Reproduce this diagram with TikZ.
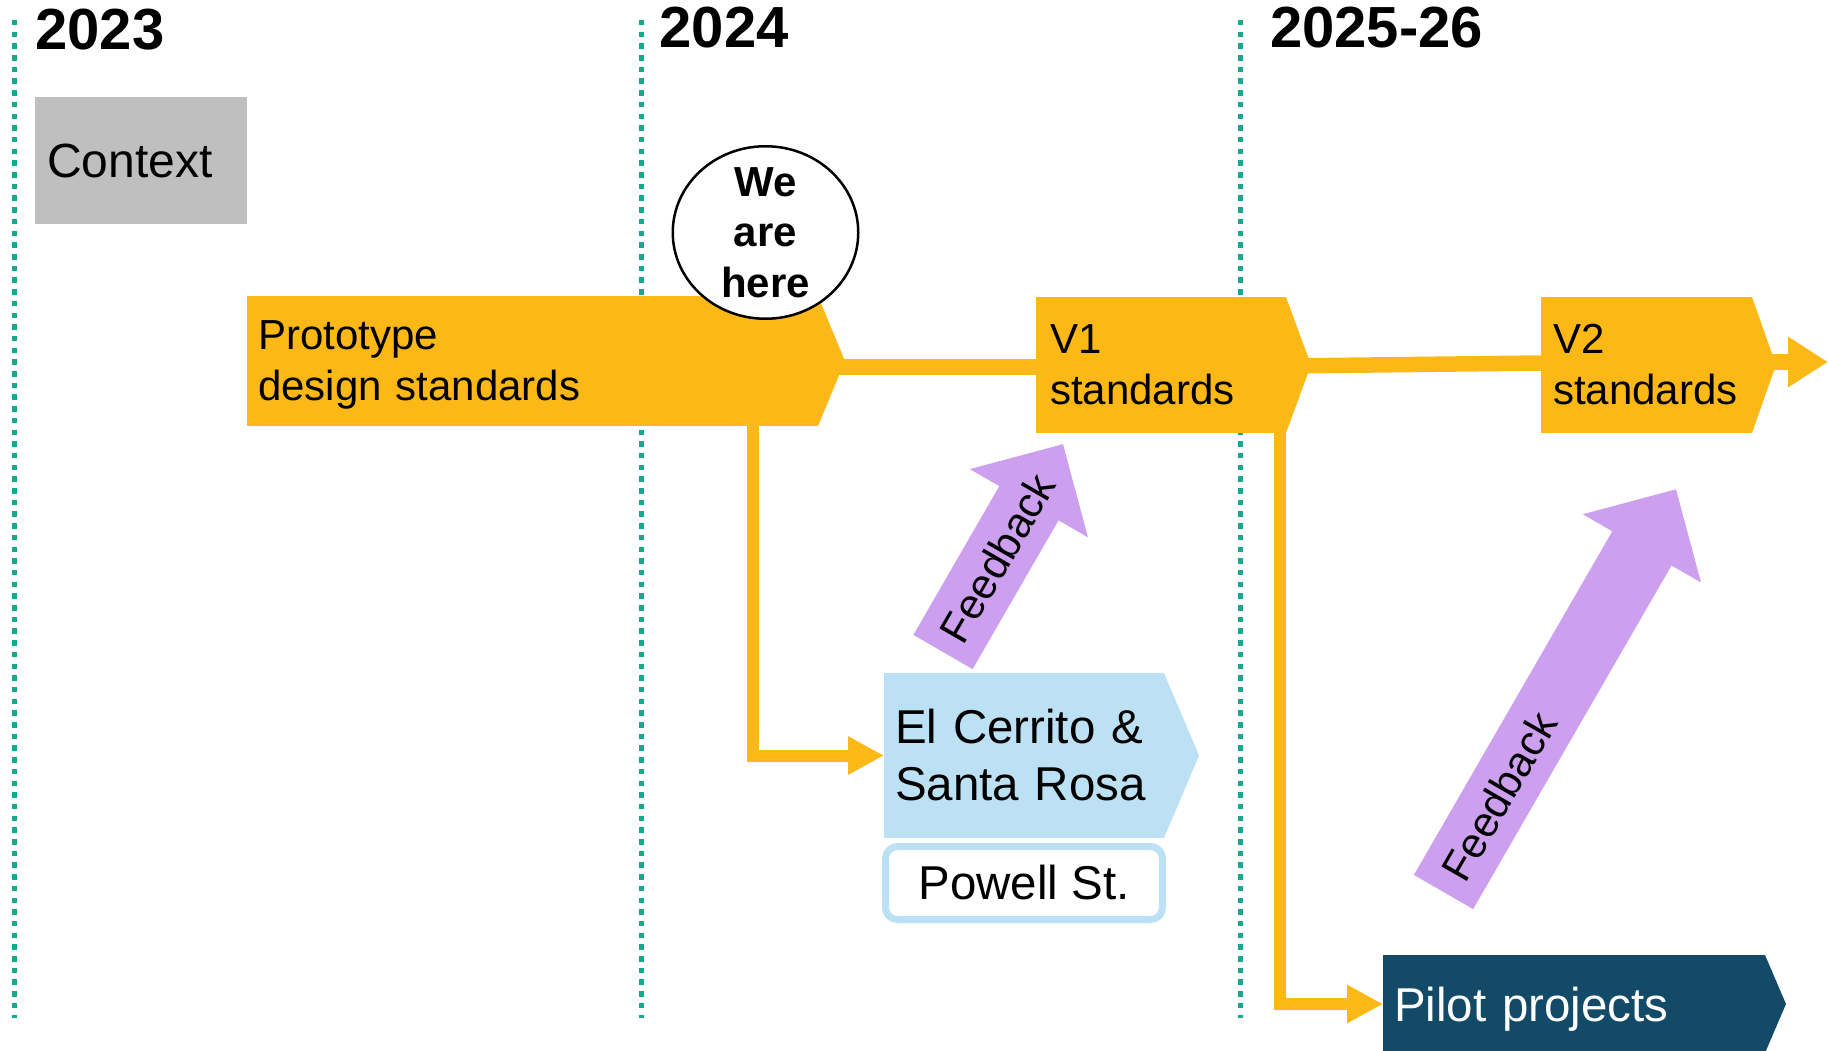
\documentclass[tikz,border=0pt]{standalone}
\usepackage{fontspec}
\setmainfont{Liberation Sans}
\usetikzlibrary{arrows.meta,positioning,shapes.geometric,shapes.arrows}

\definecolor{stdorange}{RGB}{252,184,22}
\definecolor{pilotblue}{RGB}{18,74,104}
\definecolor{sitesblue}{RGB}{189,225,244}
\definecolor{fbpurple}{RGB}{204,160,238}
\definecolor{yearteal}{RGB}{22,169,142}
\definecolor{ctxgray}{RGB}{191,191,191}

\begin{document}
\begin{tikzpicture}[x=1pt,y=-1pt,inner sep=0pt,outer sep=0pt,
                    node distance=12pt]
	\tikzstyle{yearline}=[yearteal,line width=5pt,dash pattern=on 5.5pt off 6.2pt]
	\tikzstyle{year}=[font=\fontsize{58}{60}\selectfont\bfseries,anchor=base west]
	\tikzstyle{stage}=[fill=stdorange,align=left,inner xsep=11pt,font=\fontsize{42}{51}\selectfont]
	\tikzstyle{site}=[align=left,inner xsep=11pt,font=\fontsize{47.5}{57}\selectfont]
	\tikzstyle{mainline}=[stdorange,line width=15.5pt]
	\tikzstyle{branch}=[stdorange,line width=12pt,-{Triangle[width=36pt,length=36pt]}]
	\tikzstyle{fbarrow}=[single arrow,fill=fbpurple,inner ysep=34pt,minimum width=136pt,
	                     single arrow head extend=34pt,single arrow tip angle=90,anchor=tail,rotate=60]
	\tikzstyle{fblabel}=[sloped,font=\fontsize{42.5}{50}\selectfont]

	\useasboundingbox (0,0) rectangle (1828,1051);

	% year dividers
	\foreach \x in {14,641,1240}
		\draw[yearline] (\x,20) -- (\x,1018);

	\node[year] (y2023) at (35.5,50) {2023};
	\node[year] (y2024) at (659.5,48) {2024};
	\node[year] (y2025) at (1270,48) {2025-26};

	\node[fill=ctxgray,align=left,text width=188pt,inner xsep=12pt,minimum height=127pt,
	      text depth=0pt,font=\fontsize{48}{55}\selectfont] (ctx) at (141,160.5) {Context};

	% standards
	\node[stage,text width=549pt,minimum height=130pt] (proto) at (532.5,361)
	     {Prototype\\\raisebox{0pt}[\height][0pt]{design standards}};
	\node[stage,text width=222pt,inner xsep=14pt,minimum height=136pt] (v1) at (1161,365) {V1\\standards};
	\node[stage,text width=187pt,inner xsep=12pt,minimum height=136pt] (v2) at (1646.5,365) {V2\\standards};
	\fill[stdorange] (proto.north east) -- ([xshift=27pt]proto.east) -- (proto.south east) -- cycle;
	\fill[stdorange] (v1.north east) -- ([xshift=25pt]v1.east) -- (v1.south east) -- cycle;
	\fill[stdorange] (v2.north east) -- ([xshift=24pt]v2.east) -- (v2.south east) -- cycle;
	\coordinate (timeEnd) at (1828,362);

	\node[ellipse,draw,line width=2.5pt,fill=white,minimum width=185.5pt,minimum height=172.5pt,
	      inner ysep=-6pt,align=center,font=\fontsize{42}{50.7}\selectfont\bfseries] (here) at (765.5,232.5) {We\\are\\here};

	% pilots
	\node[site,fill=sitesblue,text width=258pt,minimum height=165pt] (elc) at (1024,755.5) {El Cerrito \&\\Santa Rosa};
	\fill[sitesblue] (elc.north east) -- ([xshift=35pt]elc.east) -- (elc.south east) -- cycle;
	\node[site,draw=sitesblue,line width=7pt,fill=white,rounded corners=12pt,align=center,
	      minimum width=277pt,minimum height=73pt,below=8.5pt of elc] (powell) {Powell St.};
	\node[site,fill=pilotblue,text=white,text width=360pt,minimum height=98pt,text depth=0pt] (pilot) at (1574,1004) {Pilot projects};
	\fill[pilotblue] (pilot.north east) -- ([xshift=21pt]pilot.east) -- (pilot.south east) -- cycle;

	\draw[mainline] ([yshift=-6pt]proto.east) -- ([yshift=-2pt]v1.west);
	\draw[mainline] ([yshift=-1pt]v1.east) -- ([yshift=2pt]v2.west);
	\draw[mainline,-{Triangle[width=48pt,length=40pt]}] ([yshift=3pt]v2.east) -- (timeEnd);
	\draw[branch] ([xshift=-65.5pt]proto.south east) |- (elc.west);
	\draw[branch] ([xshift=-6pt]v1.south east) |- (pilot.west);

	% feedback
	\node[fbarrow,minimum height=240pt] (fbSites) at (943,652) {};
	\path (fbSites.tail) -- (fbSites.tip) node[fblabel,pos=0.453] (fbSitesText) {Feedback};
	\node[fbarrow,minimum height=465pt] (fbPilot) at (1443.5,892) {};
	\path (fbPilot.tail) -- (fbPilot.tip) node[fblabel,pos=0.238] (fbPilotText) {Feedback};
\end{tikzpicture}
\end{document}
